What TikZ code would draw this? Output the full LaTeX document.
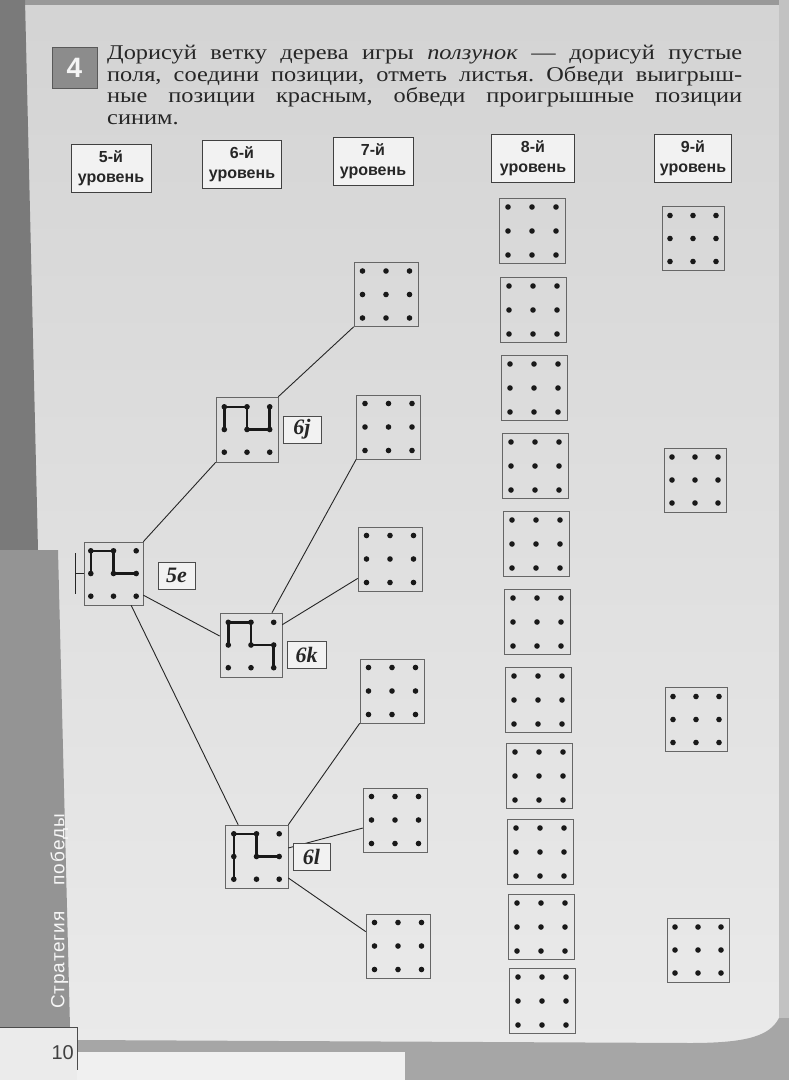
\documentclass[tikz,border=0pt]{standalone}
\usepackage{fontspec}
\setmainfont{Liberation Serif}
\newfontfamily\headfont[FakeStretch=1.16]{Liberation Serif}
\newfontfamily\lvlfont{Liberation Sans}
\newfontfamily\sidefont[LetterSpace=5]{Liberation Sans}
\usetikzlibrary{calc}
\frenchspacing
\newcommand{\dotsgrid}[2]{%
  \foreach \ii in {0,1,2}{\foreach \jj in {0,1,2}{%
    \coordinate (#1-\ii\jj) at ($(#1.center)+({(\ii-1)*#2},{(\jj-1)*#2})$);
    \fill[black!90] (#1-\ii\jj) circle (2.8pt);}}}
\begin{document}
\begin{tikzpicture}[x=1pt,y=-1pt,
  lvl/.style={draw=black!75, line width=0.7pt, fill=black!5, minimum width=80pt, minimum height=48pt, inner sep=0pt, align=center, text=black!85, font=\lvlfont\bfseries\fontsize{16}{20}\selectfont},
  board/.style={draw=black!60, line width=0.6pt, minimum width=64pt, minimum height=64pt, inner sep=0pt},
  lbl/.style={draw=black!70, line width=0.6pt, fill=black!5, minimum width=38pt, minimum height=27pt, inner sep=0pt, text=black!85, font=\bfseries\itshape\fontsize{22}{22}\selectfont},
  conn/.style={line width=0.9pt, black!85},
  move/.style={line width=2.5pt, black!90, line cap=round, line join=round},
  head/.style={anchor=base west, inner sep=0pt, text=black!85, font=\headfont\fontsize{21}{22}\selectfont}]
\useasboundingbox (0,0) rectangle (789,1080);
% page background
\fill[top color=black!17, bottom color=black!8] (0,0) rectangle (789,1080);
\fill[black!40] (0,0) rectangle (789,5);
\fill[black!24] (779,0) rectangle (789,1080);
\fill[black!52] (0,0) -- (25,0) -- (38,550) -- (0,550) -- cycle;
\fill[black!42] (0,550) -- (58,550) -- (70,1027) -- (0,1027) -- cycle;
\fill[black!8] (0,1027) rectangle (77,1080);
\fill[black!35] (77,1040) -- (690,1043) .. controls (750,1043) and (770,1035) .. (779,1018) -- (789,1018) -- (789,1080) -- (77,1080) -- cycle;
\fill[black!6] (77,1052) rectangle (405,1080);
\coordinate (sepL) at (0,1027);
\coordinate (sepC) at (77,1027);
\coordinate (sepB) at (77,1070);
\draw[black!70, line width=0.8pt] (sepL) -- (sepC) -- (sepB);
\node[anchor=base east, inner sep=0pt, text=black!75, font=\lvlfont\fontsize{20}{20}\selectfont] (pnum) at (74,1059) {10};
\node[rotate=90, inner sep=0pt, text=black!3, font=\sidefont\fontsize{19}{19}\selectfont] (side) at (59.5,911.5) {Стратегия\hspace{26pt}победы};

% header
\node[fill=black!45, draw=black!65, line width=1pt, minimum width=45pt, minimum height=41pt, inner sep=0pt, text=black!4, font=\lvlfont\bfseries\fontsize{28}{28}\selectfont] (num) at (74.5,67.5) {4};
\node[head] (h1) at (107,59.5) {\makebox[635pt][s]{Дорисуй ветку дерева игры \textit{ползунок} — дорисуй пустые}};
\node[head] (h2) at (107,81) {\makebox[635pt][s]{поля, соедини позиции, отметь листья. Обведи выигрыш-}};
\node[head] (h3) at (107,102.5) {\makebox[635pt][s]{ные позиции красным, обведи проигрышные позиции}};
\node[head] (h4) at (107,124) {синим.};

% level labels
\node[lvl] (L5) at (111,168) {5-й\\уровень};
\node[lvl, minimum width=79pt] (L6) at (242,164.5) {6-й\\уровень};
\node[lvl] (L7) at (373,161) {7-й\\уровень};
\node[lvl, minimum width=83pt] (L8) at (533,158) {8-й\\уровень};
\node[lvl, minimum width=77pt] (L9) at (693,158) {9-й\\уровень};

% game boards
\node[board, minimum width=59pt, minimum height=63pt] (e5) at (113.5,573.5) {};
\node[board, minimum width=62pt, minimum height=65pt] (j6) at (247,429.5) {};
\node[board, minimum width=62pt, minimum height=64pt] (k6) at (251,645) {};
\node[board, minimum width=63pt, minimum height=63pt] (l6) at (256.5,856.5) {};

% 7th level
\node[board] (b7a) at (386,294.5) {};
\node[board] (b7b) at (388.5,427) {};
\node[board] (b7c) at (390,559) {};
\node[board] (b7d) at (392,691) {};
\node[board] (b7e) at (395,820) {};
\node[board] (b7f) at (398,946) {};

% 8th level
\foreach \nm/\cx/\cy in {a/532/231, b/533/310, c/534/388, d/535/466, e/536/544, f/537/622, g/538/700, h/539/776, i/540/852, j/541/927, k/542/1001}{
  \node[board, minimum width=66pt, minimum height=65pt] (b8\nm) at (\cx,\cy) {};
  \dotsgrid{b8\nm}{24}
}
% 9th level
\foreach \nm/\cx/\cy in {a/693/238.5, b/695/480, c/696/719.5, d/698/950}{
  \node[board, minimum width=62pt, minimum height=64pt] (b9\nm) at (\cx,\cy) {};
  \dotsgrid{b9\nm}{23}
}

% connectors
\draw[conn] (e5.north east) -- (j6.south west);
\draw[conn] (e5.-36) -- (k6.164);
\draw[conn] (e5.-61) -- (l6.120);
\draw[conn] (j6.north east) -- (b7a.south west);
\draw[conn] (k6.57) -- (b7b.south west);
\draw[conn] (k6.33) -- (b7c.-149);
\draw[conn] (l6.north east) -- (b7d.south west);
\draw[conn] (l6.15) -- (b7e.-166);
\draw[conn] (l6.-34) -- (b7f.156);

% start marker
\coordinate (mkT) at (75.5,553);
\coordinate (mkB) at (75.5,594);
\coordinate (mk) at (75.5,573.5);
\draw[line width=1.4pt, black!85] (mkT) -- (mkB);
\draw[conn] (mk) -- (e5.west);

% dots
\dotsgrid{e5}{22.7}
\dotsgrid{j6}{22.7}
\dotsgrid{k6}{22.7}
\dotsgrid{l6}{22.7}
\foreach \nm in {a,b,c,d,e,f}{\dotsgrid{b7\nm}{23.5}}

% moves
\draw[move] (e5-01) -- (e5-00) -- (e5-10) -- (e5-11) -- (e5-21);
\draw[move] (j6-01) -- (j6-00) -- (j6-10) -- (j6-11) -- (j6-21) -- (j6-20);
\draw[move] (k6-01) -- (k6-00) -- (k6-10) -- (k6-11) -- (k6-21) -- (k6-22);
\draw[move] (l6-02) -- (l6-01) -- (l6-00) -- (l6-10) -- (l6-11) -- (l6-21);

% position labels
\node[lbl, minimum width=37pt] (t5e) at (176.5,575.5) {5e};
\node[lbl] (t6j) at (302,429.5) {6j};
\node[lbl, minimum width=39pt] (t6k) at (306.5,654.5) {6k};
\node[lbl, minimum width=37pt] (t6l) at (311.5,856.5) {6l};
\end{tikzpicture}
\end{document}
